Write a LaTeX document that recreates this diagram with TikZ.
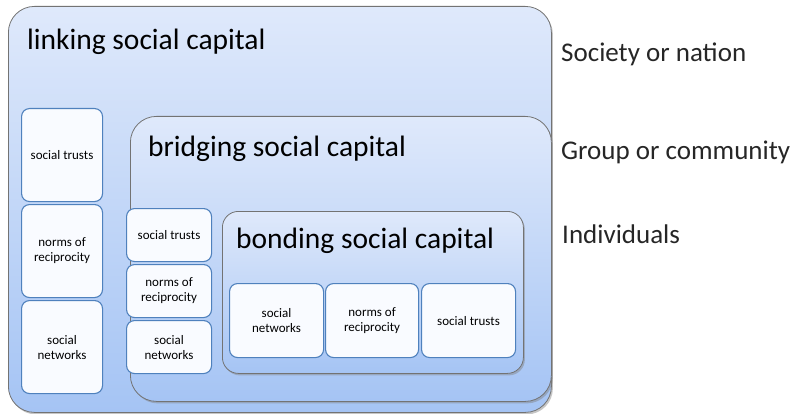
\documentclass[tikz,border=0pt]{standalone}
\usepackage{fontspec}
\setmainfont{Carlito}
\usetikzlibrary{positioning,shadows}
\definecolor{layertop}{RGB}{223,233,251}
\definecolor{layerbot}{RGB}{165,196,244}
\definecolor{itemline}{RGB}{79,129,189}
\definecolor{itemfill}{RGB}{249,251,255}
\tikzset{
  layer/.style={draw=black!55, line width=0.8pt, rounded corners=26pt,
    top color=layertop, bottom color=layerbot, anchor=north west,
    inner sep=0pt, drop shadow={shadow xshift=1.5pt, shadow yshift=-2pt, opacity=0.45}},
  layertitle/.style={anchor=base west, inner sep=0pt, font=\fontsize{29.5}{31}\selectfont},
  item/.style={draw=itemline, line width=1.1pt, rounded corners=8pt, fill=itemfill,
    anchor=north west, inner sep=0pt, align=center,
    font=\fontsize{13}{15}\selectfont},
  level/.style={anchor=base west, inner sep=0pt, text=black!85,
    font=\fontsize{27}{29}\selectfont}
}

\begin{document}
\begin{tikzpicture}[x=1pt,y=-1pt]
\useasboundingbox (0,0) rectangle (799,414);
% linking
\node[layer, minimum width=543pt, minimum height=406pt] (linking) at (8,6) {};
\node[layertitle] (linkingt) at (27,50) {linking social capital};
\node[item, minimum width=81pt, minimum height=93pt] (ltrust) at (21,108) {social trusts};
\node[item, minimum width=81pt, minimum height=93pt] (lnorms) at (21,204) {norms of\\reciprocity};
\node[item, minimum width=81pt, minimum height=93pt] (lnet) at (21,300) {social\\networks};
% bridging
\node[layer, minimum width=421pt, minimum height=285pt] (bridging) at (130,116) {};
\node[layertitle] (bridgingt) at (148,157) {bridging social capital};
\node[item, minimum width=85pt, minimum height=53pt] (btrust) at (126,208) {social trusts};
\node[item, minimum width=85pt, minimum height=53pt] (bnorms) at (126,264) {norms of\\reciprocity};
\node[item, minimum width=85pt, minimum height=53pt] (bnet) at (126,320) {social\\networks};
% bonding
\node[layer, rounded corners=16pt, minimum width=301pt, minimum height=162pt] (bonding) at (222,211) {};
\node[layertitle] (bondingt) at (236,248) {bonding social capital};
\node[item, minimum width=94pt, minimum height=74pt] (onet) at (229,283) {social\\networks};
\node[item, minimum width=93pt, minimum height=74pt] (onorms) at (325,283) {norms of\\reciprocity};
\node[item, minimum width=94pt, minimum height=74pt] (otrust) at (421,283) {social trusts};
% levels
\node[level] (society) at (561,62) {Society or nation};
\node[level] (group) at (561,160) {Group or community};
\node[level] (individual) at (562,243) {Individuals};
\end{tikzpicture}
\end{document}
